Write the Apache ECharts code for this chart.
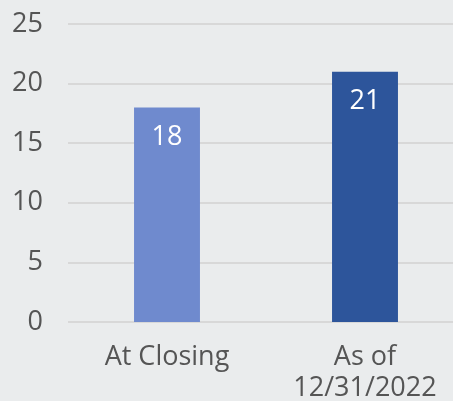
<!DOCTYPE html>
<html>
<head>
<meta charset="utf-8">
<script src="https://cdn.jsdelivr.net/npm/echarts@6/dist/echarts.min.js"></script>
<style>
  html, body { margin: 0; padding: 0; }
  body { background: #eaeced; }
  #chart { width: 453px; height: 401px; }
</style>
</head>
<body>
<div id="chart"></div>
<script>
// Category labels along the x axis
const categories = ['At Closing', 'As of\n12/31/2022'];
// Count shown for each category
const counts = [18, 21];
// Fill for each bar
const barColors = ['#6f8ace', '#2d559b'];
// Y axis range and step
const yMin = 0, yMax = 25, yStep = 5;

const chart = echarts.init(document.getElementById('chart'));
const fontFamily = '"Open Sans", "Noto Sans", sans-serif';

chart.setOption({
  backgroundColor: '#eaeced',
  animation: false,
  grid: { left: 68, width: 396, top: 24, bottom: 79, outerBoundsMode: 'none', containLabel: false },
  xAxis: {
    type: 'category',
    data: categories,
    axisLine: { show: false },
    axisTick: { show: false },
    axisLabel: {
      color: '#555555',
      fontSize: 27,
      fontWeight: 400,
      fontFamily: fontFamily,
      margin: 20,
      lineHeight: 31
    }
  },
  yAxis: {
    type: 'value',
    min: yMin,
    max: yMax,
    interval: yStep,
    axisLine: { show: false },
    axisTick: { show: false },
    splitLine: { lineStyle: { color: '#d8d8d8', width: 2 } },
    axisLabel: {
      color: '#555555',
      fontSize: 27,
      fontWeight: 400,
      fontFamily: fontFamily,
      margin: 25
    }
  },
  series: [{
    type: 'bar',
    barWidth: '33.3%',
    data: counts.map((v, i) => ({ value: v, itemStyle: { color: barColors[i] } })),
    label: {
      show: true,
      position: 'insideTop',
      distance: 16,
      color: '#ffffff',
      fontSize: 27,
      fontWeight: 400,
      fontFamily: fontFamily
    }
  }]
});
</script>
</body>
</html>
